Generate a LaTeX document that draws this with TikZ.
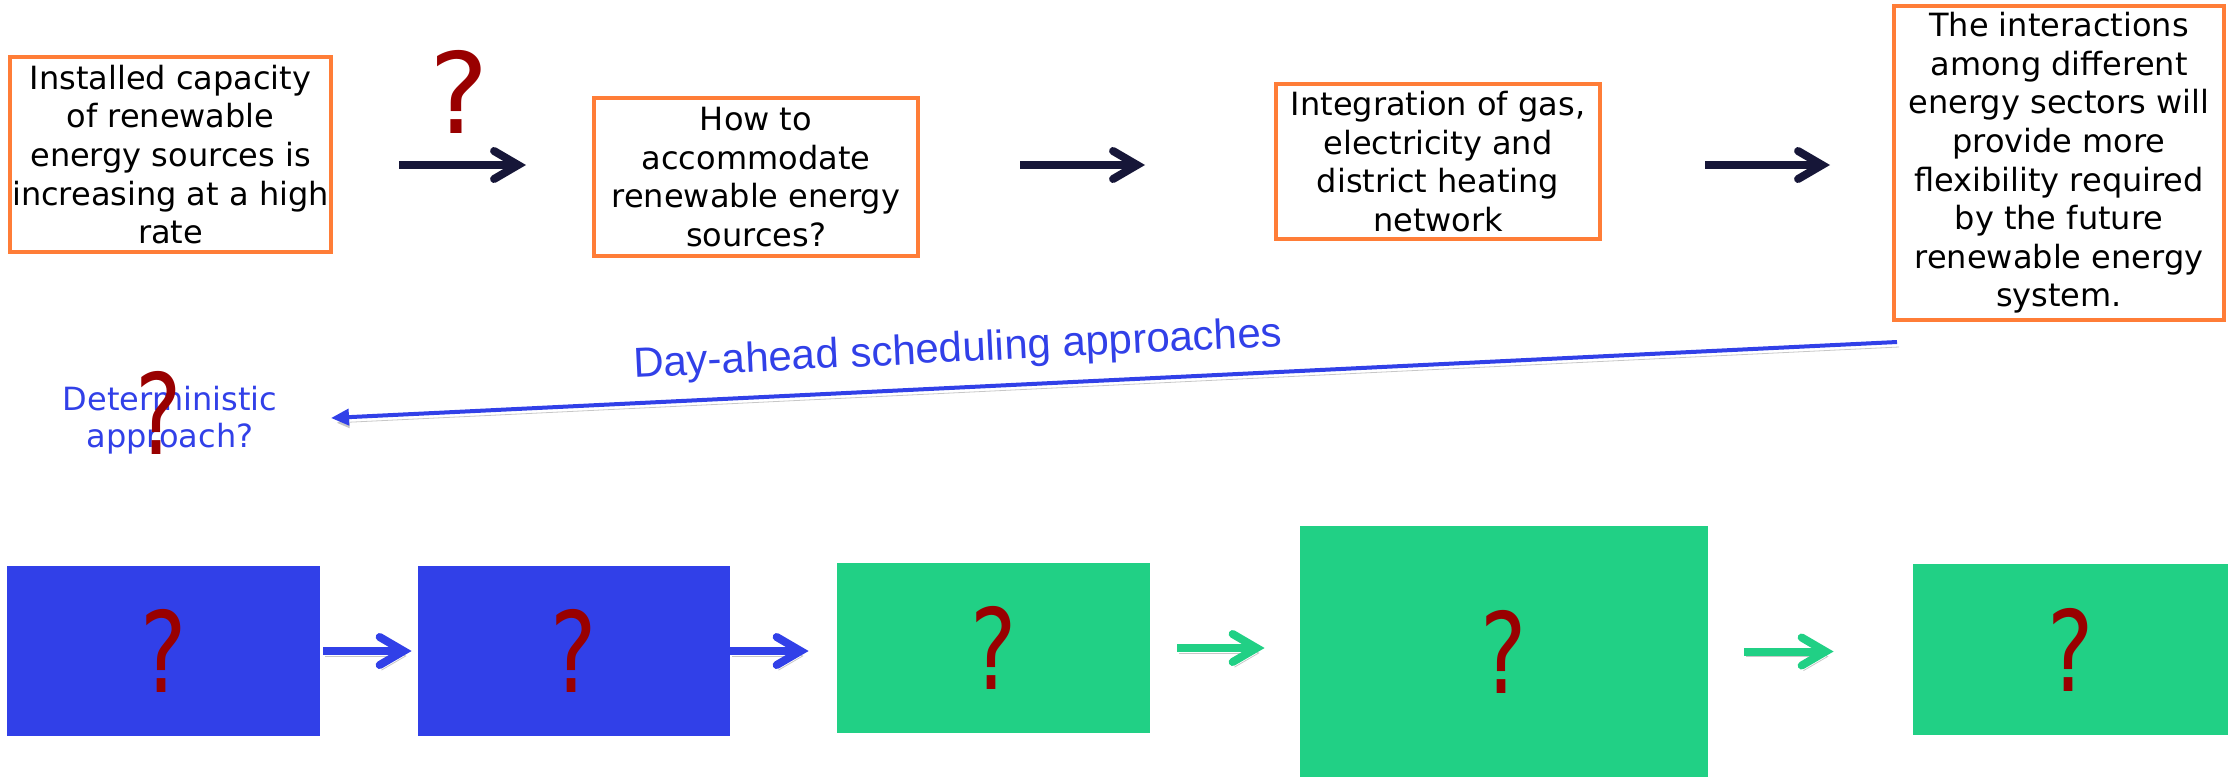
\documentclass[tikz,border=0pt]{standalone}
\usepackage{fontspec}
\setmainfont{DejaVu Sans}
\newfontfamily\labelfont{Liberation Sans}
\newfontfamily\narrowqfont[FakeStretch=0.78]{DejaVu Sans}
\usetikzlibrary{arrows.meta}

\definecolor{boxorange}{RGB}{255,125,55}
\definecolor{qred}{RGB}{153,0,0}
\definecolor{navy}{RGB}{22,22,56}
\definecolor{schedblue}{RGB}{49,64,232}
\definecolor{stepgreen}{RGB}{33,208,133}

\begin{document}
\begin{tikzpicture}[x=0.5pt,y=-0.5pt,
    qbox/.style={draw=boxorange,line width=2pt,align=center,inner sep=1pt,
      font=\fontsize{16}{19.3}\selectfont},
    qmark/.style={text=qred,inner sep=0pt,font=\fontsize{56}{56}\selectfont},
    stepbox/.style={inner sep=0pt,text=qred,font=\narrowqfont\fontsize{56}{56}\selectfont},
    shadowed/.style={preaction={draw=black!22,transform canvas={shift={(1pt,-2.5pt)}}}},
    toparrow/.style={draw=navy,line width=4pt,-{Straight Barb[length=12pt,width=14pt,line cap=round]}},
    steparrow/.style={line width=4pt,shadowed,-{Straight Barb[length=12pt,width=14pt,line cap=round]}}]
  \useasboundingbox (0,0) rectangle (2228,777);

  % top row: the question chain
  \draw (170.5,154.5) node[qbox,minimum width=160.5pt,minimum height=97.5pt] (b1)
          {Installed capacity\\of renewable\\energy sources is\\increasing at a high\\rate}
        (756,177) node[qbox,minimum width=162pt,minimum height=79pt] (b2)
          {How to\\accommodate\\renewable energy\\sources?}
        (1438,161.5) node[qbox,minimum width=162pt,minimum height=77.5pt] (b3)
          {Integration of gas,\\electricity and\\district heating\\network}
        (2059,163) node[qbox,minimum width=165pt,minimum height=157pt] (b4)
          {The interactions\\among different\\energy sectors will\\provide more\\flexibility required\\by the future\\renewable energy\\system.}
        (459,92) node[qmark] (q1) {?};

  \coordinate (row) at (0,165);
  \draw[toparrow,shorten <=33pt,shorten >=33pt] (b1.east |- row) -- (b2.west |- row);
  \draw[toparrow,shorten <=50pt,shorten >=64.5pt] (b2.east |- row) -- (b3.west |- row);
  \draw[toparrow,shorten <=51.5pt,shorten >=31pt] (b3.east |- row) -- (b4.west |- row);

  % scheduling line
  \coordinate (s0) at (1897,342);
  \coordinate (s1) at (331,418);
  \draw[schedblue,line width=2pt,shadowed,-{Triangle[length=9pt,width=8pt]}] (s0) -- (s1);
  \node[text=schedblue,rotate=2.78,font=\labelfont\fontsize{21}{21}\selectfont] (sched)
    at (958,351) {Day-ahead scheduling approaches};
  \draw (170,420) node[text=schedblue,align=center,font=\fontsize{16}{18.5}\selectfont] (det)
          {Deterministic\\approach?}
        (159,413) node[stepbox] (q2) {?};

  % bottom row
  \draw (163.5,651) node[stepbox,fill=schedblue,minimum width=156.5pt,minimum height=85pt] (r1) {?}
        (574,651) node[stepbox,fill=schedblue,minimum width=156pt,minimum height=85pt] (r2) {?}
        (993.5,648) node[stepbox,fill=stepgreen,minimum width=156.5pt,minimum height=85pt] (r3) {?}
        (1504,651.5) node[stepbox,fill=stepgreen,minimum width=204pt,minimum height=125.5pt] (r4) {?}
        (2070.5,649.5) node[stepbox,fill=stepgreen,minimum width=157.5pt,minimum height=85.5pt] (r5) {?};

  \draw[steparrow,schedblue,shorten <=1.5pt,shorten >=3pt] (r1.east) -- (r1.east -| r2.west);
  \draw[steparrow,schedblue,shorten >=14pt] (r2.east) -- (r2.east -| r3.west);
  \draw[steparrow,stepgreen,shorten <=13.5pt,shorten >=17.5pt] (r3.east) -- (r3.east -| r4.west);
  \draw[steparrow,stepgreen,shorten <=18pt,shorten >=39.5pt] (r4.east) -- (r4.east -| r5.west);
\end{tikzpicture}
\end{document}
